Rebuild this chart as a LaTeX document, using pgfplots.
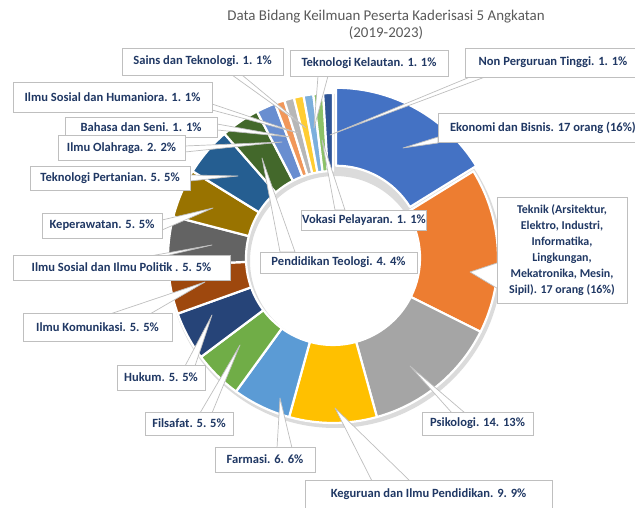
\documentclass[border=0pt]{standalone}
\usepackage{pgfplots}
\pgfplotsset{compat=1.18}
\usepackage{pgfplotstable}
\usepackage{fontspec}
\setmainfont{Carlito}

\definecolor{sl0}{HTML}{4472C4}
\definecolor{sl1}{HTML}{ED7D31}
\definecolor{sl2}{HTML}{A5A5A5}
\definecolor{sl3}{HTML}{FFC000}
\definecolor{sl4}{HTML}{5B9BD5}
\definecolor{sl5}{HTML}{70AD47}
\definecolor{sl6}{HTML}{264478}
\definecolor{sl7}{HTML}{9E480E}
\definecolor{sl8}{HTML}{636363}
\definecolor{sl9}{HTML}{997300}
\definecolor{sl10}{HTML}{255E91}
\definecolor{sl11}{HTML}{43682B}
\definecolor{sl12}{HTML}{698ED0}
\definecolor{sl13}{HTML}{F1975A}
\definecolor{sl14}{HTML}{B7B7B7}
\definecolor{sl15}{HTML}{FFCD33}
\definecolor{sl16}{HTML}{7CAFDD}
\definecolor{sl17}{HTML}{8CC168}
\definecolor{sl18}{HTML}{2F5597}
\definecolor{navy}{HTML}{203864}
\definecolor{titlegray}{HTML}{595959}
\definecolor{boxgray}{HTML}{BFBFBF}

% value and explosion (px) of each slice, clockwise from 12 o'clock
\pgfplotstableread{
name val ex
Ekonomi 17 6
Teknik 17 0
Psikologi 14 0
Keguruan 9 0
Farmasi 6 0
Filsafat 5 0
Hukum 5 0
IlmuKomunikasi 5 0
ISIP 5 0
Keperawatan 5 0
TeknologiPertanian 5 0
PendidikanTeologi 4 0
IlmuOlahraga 2 0
BahasaSeni 1 0
IlmuSosialHumaniora 1 0
SainsTeknologi 1 0
TeknologiKelautan 1 0
VokasiPelayaran 1 0
NonPT 1 0
}\donut

\pgfplotstablegetrowsof{\donut}
\pgfmathtruncatemacro\nrows{\pgfplotsretval-1}
\def\total{0}
\pgfplotsforeachungrouped \i in {0,...,\nrows}{%
  \pgfplotstablegetelem{\i}{val}\of\donut
  \pgfmathsetmacro\total{\total+\pgfplotsretval}}

\tikzset{
  lbl/.style={draw=boxgray, fill=white, line width=0.8bp, inner sep=1bp,
    text=navy, font=\bfseries\fontsize{12.6}{14}\selectfont},
  ptr/.style={fill=white, draw=boxgray, line width=0.7bp, line join=round}
}
\newcommand\lbl[5]{\node[lbl, minimum width=#3bp, minimum height=#4bp] at (axis cs:#1,-#2) {#5};}
\newcommand\ptr[6]{\filldraw[ptr] (axis cs:#1,-#2) -- (axis cs:#3,-#4) -- (axis cs:#5,-#6) -- cycle;}

\begin{document}
\begin{tikzpicture}
\begin{axis}[x=1bp, y=1bp, xmin=0, xmax=635, ymin=-508, ymax=0,
  hide axis, scale only axis, clip=false]
% soft shadow
\fill[black!14, even odd rule] (axis cs:335,-261) circle[radius=167bp] (axis cs:335,-261) circle[radius=85bp];
\def\cum{0}
\pgfplotsforeachungrouped \i in {0,...,\nrows}{%
  \pgfplotstablegetelem{\i}{val}\of\donut \let\sval\pgfplotsretval
  \pgfplotstablegetelem{\i}{ex}\of\donut \let\sex\pgfplotsretval
  \pgfmathsetmacro\aone{90-\cum/\total*360}
  \pgfmathsetmacro\cum{\cum+\sval}
  \pgfmathsetmacro\atwo{90-\cum/\total*360}
  \pgfmathsetmacro\amid{(\aone+\atwo)/2}
  \pgfmathsetmacro\ccx{333+\sex*cos(\amid)}
  \pgfmathsetmacro\ccy{-258+\sex*sin(\amid)}
  \pgfmathsetmacro\xout{\ccx+165*cos(\aone)}
  \pgfmathsetmacro\yout{\ccy+165*sin(\aone)}
  \pgfmathsetmacro\xin{\ccx+87*cos(\atwo)}
  \pgfmathsetmacro\yin{\ccy+87*sin(\atwo)}
  \edef\temp{\noexpand\fill[sl\i, draw=white, line width=2.2bp, line join=round]
    (axis cs:\xout,\yout) arc[start angle=\aone, end angle=\atwo, radius=165bp]
    -- (axis cs:\xin,\yin) arc[start angle=\atwo, end angle=\aone, radius=87bp] -- cycle;}
  \temp
}
% pointers
\ptr{403}{148}{438}{137}{438}{143}
\ptr{470}{272}{500}{262}{500}{290}
\ptr{410}{366}{452}{413}{465}{413}
\ptr{335}{408}{372}{481}{410}{481}
\ptr{280}{398}{277}{448}{292}{448}
\ptr{240}{345}{200}{413}{212}{413}
\ptr{212}{315}{185}{366}{195}{366}
\ptr{205}{282}{110}{314}{150}{314}
\ptr{212}{245}{150}{256}{165}{256}
\ptr{213}{208}{162}{220}{162}{230}
\ptr{238}{176}{190}{175}{190}{181}
\ptr{282}{142}{185}{146}{185}{152}
\ptr{290}{137}{217}{124}{217}{130}
\ptr{298}{133}{212}{104}{212}{110}
\ptr{306}{128}{232}{75}{242}{75}
\ptr{314}{128}{318}{76}{328}{76}
\ptr{330}{135}{470}{77}{485}{77}
\ptr{322}{140}{335}{210}{345}{210}
\ptr{262}{158}{280}{252}{295}{252}
% labels
\lbl{202.5}{61.5}{161}{27}{Sains dan Teknologi. 1. 1\%}
\lbl{369}{63}{158}{26}{Teknologi Kelautan. 1. 1\%}
\lbl{553}{62.5}{176}{29}{Non Perguruan Tinggi. 1. 1\%}
\lbl{112.5}{97}{199}{30}{Ilmu Sosial dan Humaniora. 1. 1\%}
\lbl{141}{127}{152}{20}{Bahasa dan Seni. 1. 1\%}
\lbl{121.5}{148}{127}{25}{Ilmu Olahraga. 2. 2\%}
\lbl{110}{178}{160}{24}{Teknologi Pertanian. 5. 5\%}
\lbl{102}{225.5}{120}{25}{Keperawatan. 5. 5\%}
\lbl{121.5}{267.5}{217}{25}{Ilmu Sosial dan Ilmu Politik . 5. 5\%}
\lbl{97.5}{327}{149}{28}{Ilmu Komunikasi. 5. 5\%}
\lbl{161}{377.5}{88}{25}{Hukum. 5. 5\%}
\lbl{189}{423.5}{88}{23}{Filsafat. 5. 5\%}
\lbl{265}{459.5}{100}{25}{Farmasi. 6. 6\%}
\lbl{428.5}{494}{247}{28}{Keguruan dan Ilmu Pendidikan. 9. 9\%}
\lbl{477.5}{423.5}{111}{23}{Psikologi. 14. 13\%}
\lbl{364}{220}{108}{20}{Vokasi Pelayaran. 1. 1\%}
\lbl{338.5}{262.5}{157}{21}{Pendidikan Teologi. 4. 4\%}
\node[lbl, minimum width=205bp, minimum height=29bp, anchor=west] at (axis cs:438,-128) {\hspace*{4bp}Ekonomi dan Bisnis. 17 orang (16\%)\hfill};
\node[lbl, minimum width=130bp, minimum height=106bp, align=center,
  font=\bfseries\fontsize{12}{16.2}\selectfont] at (axis cs:562,-250)
  {Teknik (Arsitektur,\\Elektro, Industri,\\Informatika,\\Lingkungan,\\Mekatronika, Mesin,\\Sipil). 17 orang (16\%)};
% title
\node[text=titlegray, font=\fontsize{15}{16.5}\selectfont, align=center] at (axis cs:386,-25)
  {Data Bidang Keilmuan Peserta Kaderisasi 5 Angkatan\\(2019-2023)};
\end{axis}
\pgfresetboundingbox
\path (current axis.south west) rectangle (current axis.north east);
\end{tikzpicture}
\end{document}
